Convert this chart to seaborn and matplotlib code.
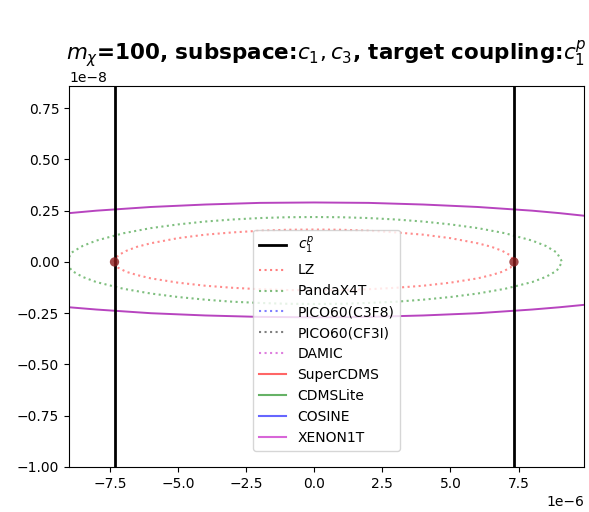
import matplotlib
matplotlib.use("Agg")
import matplotlib.pyplot as plt
import seaborn as sns
import pandas as pd
from matplotlib.lines import Line2D

# ---------------- data (x in units of 1e-6, y in units of 1e-8) ----------------
XS = 1e-6
YS = 1e-8

# c1^p boundary (vertical lines) and marked points
c1p_x = [-7.33, 7.33]
dot_x = [-7.33, 7.33]
dot_y = [0.0, 0.0]

# LZ (red dotted closed contour): upper branch left->right, lower branch right->left
lz_x_up = [-7.35, -7.2, -6.9, -6.5, -6.0, -5.0, -4.0, -3.0, -2.0, -1.0, 0.0,
           1.0, 2.0, 3.0, 4.0, 5.0, 6.0, 6.5, 6.9, 7.2, 7.35]
lz_y_up = [0.0, 0.032, 0.054, 0.074, 0.091, 0.116, 0.133, 0.144, 0.152, 0.157, 0.158,
           0.157, 0.152, 0.144, 0.133, 0.116, 0.091, 0.074, 0.054, 0.032, 0.0]
lz_x_lo = [7.35, 7.2, 6.9, 6.5, 6.0, 5.0, 4.0, 3.0, 2.0, 1.0, 0.0,
           -1.0, -2.0, -3.0, -4.0, -5.0, -6.0, -6.5, -6.9, -7.2, -7.35]
lz_y_lo = [0.0, -0.028, -0.048, -0.064, -0.080, -0.101, -0.116, -0.126, -0.133, -0.137, -0.138,
           -0.137, -0.133, -0.126, -0.116, -0.101, -0.080, -0.064, -0.048, -0.028, 0.0]

# PandaX4T (green dotted closed contour)
px_x_up = [-9.1, -8.9, -8.5, -8.0, -7.0, -6.0, -5.0, -4.0, -3.0, -2.0, -1.0, 0.0,
           1.0, 2.0, 3.0, 4.0, 5.0, 6.0, 7.0, 8.0, 8.5, 8.9, 9.1]
px_y_up = [0.0, 0.046, 0.078, 0.104, 0.140, 0.165, 0.183, 0.197, 0.207, 0.214, 0.218, 0.219,
           0.218, 0.214, 0.207, 0.197, 0.183, 0.165, 0.140, 0.104, 0.078, 0.046, 0.0]
px_x_lo = [9.1, 8.9, 8.5, 8.0, 7.0, 6.0, 5.0, 4.0, 3.0, 2.0, 1.0, 0.0,
           -1.0, -2.0, -3.0, -4.0, -5.0, -6.0, -7.0, -8.0, -8.5, -8.9, -9.1]
px_y_lo = [0.0, -0.043, -0.073, -0.098, -0.131, -0.154, -0.171, -0.184, -0.194, -0.200, -0.204, -0.205,
           -0.204, -0.200, -0.194, -0.184, -0.171, -0.154, -0.131, -0.098, -0.073, -0.043, 0.0]

# XENON1T (magenta solid, two visible branches)
xe_x = [-10.0, -9.0, -8.0, -6.0, -4.0, -2.0, 0.0, 2.0, 4.0, 6.0, 8.0, 9.0, 10.0]
xe_y_up = [0.224, 0.238, 0.250, 0.268, 0.280, 0.288, 0.290, 0.288, 0.280, 0.268, 0.250, 0.238, 0.224]
xe_y_lo = [-0.208, -0.221, -0.232, -0.250, -0.261, -0.268, -0.270, -0.268, -0.261, -0.250, -0.232, -0.221, -0.208]

# legend entries
dotted_names = ["LZ", "PandaX4T", "PICO60(C3F8)", "PICO60(CF3I)", "DAMIC"]
dotted_colors = ["red", "green", "blue", "black", "m"]
solid_names = ["SuperCDMS", "CDMSLite", "COSINE", "XENON1T"]
solid_colors = ["red", "green", "blue", "m"]

title = r"$m_\chi$=100, subspace:$c_1, c_3$, target coupling:$c_1^p$"

# ---------------- plot ----------------
fig = plt.figure(figsize=(5.89, 5.12), dpi=100)
ax = fig.add_axes([69 / 589, 1 - 467 / 512, (584 - 69) / 589, (467 - 86) / 512])

def closed(xu, yu, xl, yl):
    return pd.DataFrame({"x": [v * XS for v in xu + xl], "y": [v * YS for v in yu + yl]})

lz = closed(lz_x_up, lz_y_up, lz_x_lo, lz_y_lo)
px = closed(px_x_up, px_y_up, px_x_lo, px_y_lo)
sns.lineplot(data=lz, x="x", y="y", sort=False, estimator=None, ax=ax,
             color="red", alpha=0.45, linestyle=":", linewidth=1.5)
sns.lineplot(data=px, x="x", y="y", sort=False, estimator=None, ax=ax,
             color="green", alpha=0.5, linestyle=":", linewidth=1.5)

xe_up = pd.DataFrame({"x": [v * XS for v in xe_x], "y": [v * YS for v in xe_y_up]})
xe_lo = pd.DataFrame({"x": [v * XS for v in xe_x], "y": [v * YS for v in xe_y_lo]})
for d in (xe_up, xe_lo):
    sns.lineplot(data=d, x="x", y="y", sort=False, estimator=None, ax=ax,
                 color="#b030b8", alpha=0.9, linewidth=1.4)

for xv in c1p_x:
    ax.axvline(xv * XS, color="black", linewidth=2)

sns.scatterplot(x=[v * XS for v in dot_x], y=[v * YS for v in dot_y], ax=ax,
                color="#8b1a1a", alpha=0.8, s=45, edgecolor="none", zorder=5)

ax.set_xlim(-9.0e-6, 9.9e-6)
ax.set_ylim(-1.0e-8, 0.858e-8)
ax.set_xlabel("")
ax.set_ylabel("")
ax.set_title(title, fontsize=15.5, fontweight="bold", pad=7)

handles = [Line2D([], [], color="black", linewidth=2, label=r"$c_1^p$")]
for n, c in zip(dotted_names, dotted_colors):
    handles.append(Line2D([], [], color=c, alpha=0.5, linestyle=":", linewidth=1.5, label=n))
for n, c in zip(solid_names, solid_colors):
    handles.append(Line2D([], [], color=c, alpha=0.6, linewidth=1.5, label=n))
ax.legend(handles=handles, loc="lower center", bbox_to_anchor=(0.5, 0.025), fontsize=10)

fig.savefig("out.png", dpi=100)
